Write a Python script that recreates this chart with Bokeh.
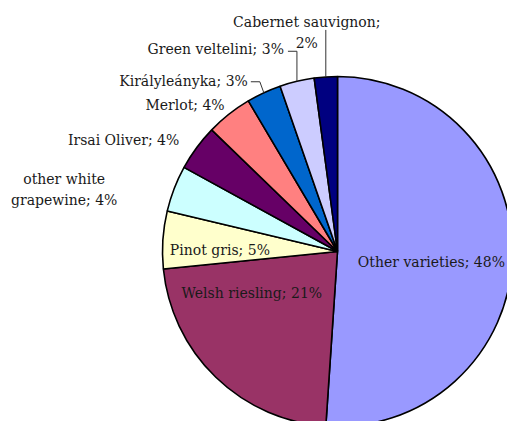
import math
from bokeh.plotting import figure
from bokeh.models import ColumnDataSource, Range1d
from bokeh.core.properties import value
from bokeh.embed import file_html
from bokeh.resources import INLINE

# ---- data ----
categories = ["Other varieties", "Welsh riesling", "Pinot gris", "other white grapevine",
              "Irsai Oliver", "Merlot", "Királyleányka", "Green veltelini", "Cabernet sauvignon"]
label_names = ["Other varieties", "Welsh riesling", "Pinot gris", "other white\ngrapewine",
               "Irsai Oliver", "Merlot", "Királyleányka", "Green veltelini", "Cabernet sauvignon;\n"]
shares = [48, 21, 5, 4, 4, 4, 3, 3, 2]
colors = ["#9999FF", "#993366", "#FFFFCC", "#CCFFFF", "#660066", "#FF8080", "#0066CC", "#CCCCFF", "#000080"]

# ---- layout / style ----
W, H = 507, 421
CX, CY_PX, R = 337, 251, 175
CY = H - CY_PX
FONT = "DejaVu Serif"
FS = "14px"
# label offsets (pixels, +down) from the rim point at each wedge's mid angle
label_offsets = [(-81, 5), (36, -84), (57, 10), (-110, 1), (-73, -8), (-44, -9), (-16, -12), (-13, -32), (-19, -44)]
label_align = ["center", "center", "center", "center", "center", "center", "right", "right", "center"]
# leader lines: list of offset points (pixels, +down) from rim point, or None
leaders = [None, None, None, None, None, None,
           [(0, 0), (-4, -11), (-13, -11)],
           [(0, 0), (0, -30), (-9, -30)],
           [(0, 0), (0, -47)]]

total = float(sum(shares))
starts, ends, mids = [], [], []
c = 0.0
for s in shares:
    a0 = c / total * 2 * math.pi          # clockwise from 12 o'clock
    c += s
    a1 = c / total * 2 * math.pi
    starts.append(math.pi / 2 - a1)
    ends.append(math.pi / 2 - a0)
    mids.append((a0 + a1) / 2)

src = ColumnDataSource(dict(cat=categories, start=starts, end=ends, color=colors))

p = figure(width=W, height=H, x_range=Range1d(0, W), y_range=Range1d(0, H),
           output_backend="svg", toolbar_location=None, min_border=0,
           min_border_left=0, min_border_right=0, min_border_top=0, min_border_bottom=0)
p.axis.visible = False
p.grid.visible = False
p.outline_line_color = None
p.background_fill_color = "white"
p.border_fill_color = "white"

p.wedge(x=CX, y=CY, radius=R, start_angle="start", end_angle="end", fill_color="color",
        line_color="black", line_width=1.6, source=src)

def rim(theta):
    return CX + R * math.sin(theta), CY + R * math.cos(theta)

lx, ly, lt, la = [], [], [], []
lxs, lys = [], []
for i, th in enumerate(mids):
    rx, ry = rim(th)
    dx, dy = label_offsets[i]
    lx.append(rx + dx)
    ly.append(ry - dy)
    name = label_names[i]
    if name.endswith("\n"):
        lt.append(f"{name}{shares[i]}%")
    else:
        lt.append(f"{name}; {shares[i]}%")
    la.append(label_align[i])
    if leaders[i]:
        lxs.append([rx + o[0] for o in leaders[i]])
        lys.append([ry - o[1] for o in leaders[i]])

p.multi_line(xs=lxs, ys=lys, line_color="#333333", line_width=1)

tsrc = ColumnDataSource(dict(x=lx, y=ly, t=lt, a=la))
p.text(x="x", y="y", text="t", text_align="a", text_baseline="middle",
       text_font=value(FONT), text_font_size=FS, text_color="#1a1a1a",
       text_line_height=1.3, source=tsrc)

open("out.html", "w").write(file_html(p, INLINE))
